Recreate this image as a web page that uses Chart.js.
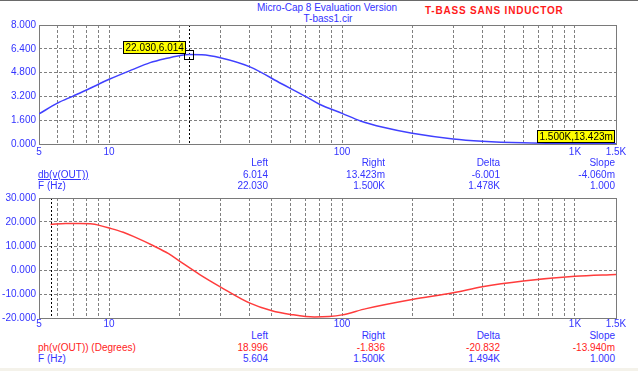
<!DOCTYPE html>
<html>
<head>
<meta charset="utf-8">
<script src="https://cdn.jsdelivr.net/npm/chart.js@4.4.1/dist/chart.umd.min.js"></script>
<style>
  html, body { margin: 0; padding: 0; background: #fff; }
  #page { position: relative; width: 638px; height: 371px; overflow: hidden;
          font-family: "Liberation Sans", Arial, sans-serif; font-size: 10px; color: #3333ff; }
  #page canvas { position: absolute; left: 0; }
  .t { position: absolute; line-height: 11px; white-space: nowrap; }
  .red { color: #ff2222; }
  .u { text-decoration: underline; }
  #topline { position: absolute; left: 0; top: 0; width: 638px; height: 1px; background: #6a6a6a; }
  #botline { position: absolute; left: 0; top: 368px; width: 638px; height: 3px; background: #f4f2ea; }
</style>
</head>
<body>
<div id="page">
  <div id="topline"></div>
  <div class="t" style="left:227px;width:200px;top:2px;text-align:center;">Micro-Cap 8 Evaluation Version</div>
  <div class="t" style="left:228px;width:200px;top:13px;text-align:center;">T-bass1.cir</div>
  <div class="t red" style="left:425px;top:5px;font-weight:bold;letter-spacing:0.8px;color:#ff1a1a;">T-BASS SANS INDUCTOR</div>
  <canvas id="dbChart" width="638" height="160" style="top:0"></canvas>
  <canvas id="phChart" width="638" height="150" style="top:180px"></canvas>
  <div id="tables"></div>
  <div id="botline"></div>
</div>
<script>
// ---- data ----
const freqTop = [5, 6, 7, 8, 9, 10, 12.5, 15, 17.5, 20, 22.03, 25, 30, 40, 55, 70, 80, 100, 120, 150, 200, 300, 400, 600, 1000, 1500];
const dbOut   = [2.02, 2.75, 3.22, 3.63, 4.02, 4.35, 4.98, 5.47, 5.75, 5.94, 6.014, 6.0, 5.8, 5.2, 4.05, 3.18, 2.67, 2.06, 1.55, 1.12, 0.72, 0.34, 0.19, 0.08, 0.03, 0.013];

const freqBot = [5.604, 6.5, 7.5, 8.5, 9, 10, 11.5, 12.7, 15.5, 18, 20.2, 24.5, 30, 40, 50, 60, 76, 88, 100, 127, 200, 300, 400, 600, 1000, 1500];
const phOut   = [18.996, 19.4, 19.4, 19.2, 18.7, 17.5, 15.7, 14.0, 10.1, 6.8, 3.5, -1.9, -7.0, -13.7, -17.0, -18.5, -19.6, -19.4, -18.7, -16.1, -12.3, -9.5, -7.0, -4.6, -2.6, -1.836];

const xTickValues = [5, 6, 7, 8, 9, 10, 20, 30, 40, 50, 60, 70, 80, 90, 100, 200, 300, 400, 500, 600, 700, 800, 900, 1000, 1500];
const xTickLabels = { 5: '5', 10: '10', 100: '100', 1000: '1K', 1500: '1.5K' };
const yTicksTop = [0, 1.6, 3.2, 4.8, 6.4, 8];
const yTicksBot = [-20, -10, 0, 10, 20, 30];

// cursor readouts
const cursorTopLeft = [22.03, 6.014];
const cursorTopRight = [1500, 0.013423];
const cursorBotLeft = [5.604, 18.996];

const colHeaders = ['Left', 'Right', 'Delta', 'Slope'];
const dbRow = ['6.014', '13.423m', '-6.001', '-4.060m'];
const fTopRow = ['22.030', '1.500K', '1.478K', '1.000'];
const phRow = ['18.996', '-1.836', '-20.832', '-13.940m'];
const fBotRow = ['5.604', '1.500K', '1.494K', '1.000'];

const FONT = '"Liberation Sans", Arial, sans-serif';
const BLUE = '#3333ff';

// frame, dashed cursor line, marker and yellow tags
const cursorPlugin = {
  id: 'cursorPlugin',
  beforeDatasetsDraw(chart, args, opts) {
    const { ctx, chartArea: a, scales: { x } } = chart;
    ctx.save();
    if (opts.left) {
      const px = Math.round(x.getPixelForValue(opts.left[0])) + 0.5;
      ctx.strokeStyle = '#000';
      ctx.lineWidth = 1;
      ctx.setLineDash([2, 2]);
      ctx.beginPath();
      ctx.moveTo(px, a.top);
      ctx.lineTo(px, a.bottom);
      ctx.stroke();
    }
    ctx.setLineDash([]);
    ctx.strokeStyle = '#7a7a7a';
    ctx.strokeRect(a.left + 0.5, a.top + 0.5, a.right - a.left, a.bottom - a.top);
    ctx.restore();
  },
  afterDatasetsDraw(chart, args, opts) {
    const { ctx, chartArea: a, scales: { x, y } } = chart;
    ctx.save();
    if (opts.left && opts.leftTag) {
      const px = Math.round(x.getPixelForValue(opts.left[0]));
      const py = Math.round(y.getPixelForValue(opts.left[1]));
      ctx.strokeStyle = '#000';
      ctx.strokeRect(px - 4.5, py - 4.5, 9, 9);
      drawTag(ctx, opts.leftTag, px - 3, py - 1);
    }
    if (opts.right && opts.rightTag) {
      drawTag(ctx, opts.rightTag, a.right - 1, a.bottom - 1);
    }
    ctx.restore();
  }
};

function drawTag(ctx, text, right, bottom) {
  ctx.font = '10px ' + FONT;
  const w = Math.round(ctx.measureText(text).width + 5);
  const h = 13;
  const left = Math.round(right - w), top = Math.round(bottom - h);
  ctx.fillStyle = '#ffff00';
  ctx.fillRect(left, top, w, h);
  ctx.strokeStyle = '#000';
  ctx.strokeRect(left + 0.5, top + 0.5, w - 1, h - 1);
  ctx.fillStyle = '#000';
  ctx.textAlign = 'left';
  ctx.textBaseline = 'middle';
  ctx.fillText(text, left + 2.5, top + h / 2 + 0.5);
}

function makeChart(id, xs, ys, color, yTicks, yMin, yMax, padTop, xHeight, xPad, cursors) {
  return new Chart(document.getElementById(id), {
    type: 'line',
    data: {
      datasets: [{
        data: xs.map((f, i) => ({ x: f, y: ys[i] })),
        borderColor: color,
        borderWidth: 1.5,
        pointRadius: 0,
        cubicInterpolationMode: 'monotone',
        fill: false
      }]
    },
    options: {
      responsive: false,
      animation: false,
      layout: { padding: { top: padTop, right: 22, left: 0, bottom: 0 } },
      plugins: { legend: { display: false }, tooltip: { enabled: false }, cursorPlugin: cursors },
      scales: {
        x: {
          type: 'logarithmic',
          min: 5,
          max: 1500,
          afterBuildTicks: s => { s.ticks = xTickValues.map(v => ({ value: v })); },
          afterFit: s => { s.height = xHeight; },
          ticks: {
            autoSkip: false, maxRotation: 0, padding: xPad,
            color: BLUE, font: { family: FONT, size: 10 },
            callback: v => xTickLabels[v] || ''
          },
          grid: { color: '#808080', drawTicks: false, lineWidth: 1 },
          border: { display: false, dash: [3, 2] }
        },
        y: {
          type: 'linear',
          min: yMin,
          max: yMax,
          afterBuildTicks: s => { s.ticks = yTicks.map(v => ({ value: v })); },
          afterFit: s => { s.width = 39; },
          ticks: {
            autoSkip: false, padding: 3,
            color: BLUE, font: { family: FONT, size: 10 },
            callback: v => v.toFixed(3)
          },
          grid: { color: '#808080', drawTicks: false, lineWidth: 1 },
          border: { display: false, dash: [3, 2] }
        }
      }
    },
    plugins: [cursorPlugin]
  });
}

makeChart('dbChart', freqTop, dbOut, '#4040ff', yTicksTop, 0, 8, 25, 16, 2, {
  left: cursorTopLeft,
  leftTag: cursorTopLeft[0].toFixed(3) + ',' + cursorTopLeft[1].toFixed(3),
  right: cursorTopRight,
  rightTag: '1.500K,13.423m'
});

makeChart('phChart', freqBot, phOut, '#ff3c3c', yTicksBot, -20, 30, 18, 12, 0, {
  left: cursorBotLeft
});

// cursor readout tables
const colRight = [268, 385, 500, 615];
function addText(text, x, top, cls, alignRight) {
  const d = document.createElement('div');
  d.className = 't' + (cls ? ' ' + cls : '');
  d.textContent = text;
  d.style.top = top + 'px';
  if (alignRight) d.style.right = (638 - x) + 'px';
  else d.style.left = x + 'px';
  document.getElementById('tables').appendChild(d);
}
function addTable(top, nameA, rowA, clsA, nameB, rowB) {
  colHeaders.forEach((h, i) => addText(h, colRight[i], top, '', true));
  addText(nameA, 38, top + 12, clsA, false);
  rowA.forEach((v, i) => addText(v, colRight[i], top + 12, clsA === 'red' ? 'red' : '', true));
  addText(nameB, 38, top + 23, '', false);
  rowB.forEach((v, i) => addText(v, colRight[i], top + 23, '', true));
}
addTable(157, 'db(v(OUT))', dbRow, 'u', 'F (Hz)', fTopRow);
addTable(330, 'ph(v(OUT)) (Degrees)', phRow, 'red', 'F (Hz)', fBotRow);
</script>
</body>
</html>
